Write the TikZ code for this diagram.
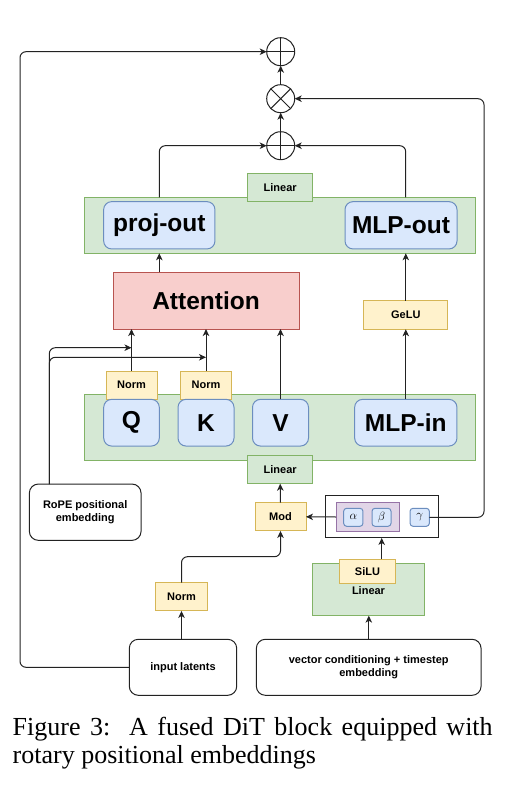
\documentclass[tikz,border=0pt]{standalone}
\usepackage{fontspec}
\setmainfont{Liberation Serif}
\newfontfamily\labfont{Liberation Sans}
\usetikzlibrary{arrows.meta}
\definecolor{gfill}{HTML}{D5E8D4}\definecolor{gline}{HTML}{82B366}
\definecolor{bfill}{HTML}{DAE8FC}\definecolor{bline}{HTML}{6C8EBF}
\definecolor{rfill}{HTML}{F8CECC}\definecolor{rline}{HTML}{B85450}
\definecolor{yfill}{HTML}{FFF2CC}\definecolor{yline}{HTML}{D6B656}
\definecolor{pfill}{HTML}{E1D5E7}\definecolor{pline}{HTML}{9673A6}
\definecolor{ink}{HTML}{222222}
\begin{document}
\begin{tikzpicture}[x=1pt,y=-1pt,
  every node/.style={inner sep=0pt, outer sep=0pt},
  band/.style={draw=gline, fill=gfill, line width=1pt},
  bluebox/.style={draw=bline, fill=bfill, line width=1pt, rounded corners=8pt,
     font=\labfont\bfseries\fontsize{24.5}{28}\selectfont},
  redbox/.style={draw=rline, fill=rfill, line width=1pt,
     font=\labfont\bfseries\fontsize{24.5}{28}\selectfont},
  tabbox/.style={draw=gline, fill=gfill, line width=1pt,
     font=\labfont\bfseries\fontsize{11}{13}\selectfont},
  ybox/.style={draw=yline, fill=yfill, line width=1pt,
     font=\labfont\bfseries\fontsize{11}{13}\selectfont},
  wbox/.style={draw=ink, fill=white, line width=1pt, rounded corners=9pt, align=center,
     font=\labfont\bfseries\fontsize{11}{12.7}\selectfont},
  greek/.style={draw=bline, fill=bfill, line width=1pt, rounded corners=3pt,
     font=\fontsize{12}{14}\selectfont},
  opcirc/.style={draw=ink, line width=1pt, circle, minimum size=28pt},
  conn/.style={draw=ink, line width=1pt, rounded corners=6pt,
     -{Stealth[length=7pt,width=6.5pt,inset=2pt]}},
  plain/.style={draw=ink, line width=1pt, rounded corners=6pt}
]
\useasboundingbox (0,0) rectangle (528,786);

% operator circles
\node[opcirc] (plusT) at (280.7,51.7) {};
\node[opcirc] (times) at (280.7,98.7) {};
\node[opcirc] (plusL) at (280.7,145.7) {};
\draw[ink, line width=1pt] (plusT.north) -- (plusT.south) (plusT.west) -- (plusT.east);
\draw[ink, line width=1pt] (plusL.north) -- (plusL.south) (plusL.west) -- (plusL.east);
\draw[ink, line width=1pt] (times.north west) -- (times.south east) (times.north east) -- (times.south west);

% top band
\node[band, minimum width=391pt, minimum height=56pt] (topband) at (280.2,225.3) {};
\node[tabbox, minimum width=65pt, minimum height=28.3pt] (lintop) at (280.2,187.8) {Linear};
\node[bluebox, minimum width=111.3pt, minimum height=47.3pt] (projout) at (159.3,225.3) {proj-out};
\node[bluebox, minimum width=112pt, minimum height=47.3pt] (mlpout) at (401,225.3) {MLP-out};

% attention and gelu
\node[redbox, minimum width=186pt, minimum height=56.7pt] (attn) at (206,300.7) {Attention};
\node[ybox, minimum width=83.7pt, minimum height=28.6pt] (gelu) at (405.8,315) {GeLU};

% lower band
\node[band, minimum width=391pt, minimum height=66pt] (lowband) at (280.2,427.3) {};
\node[ybox, minimum width=51pt, minimum height=28.3pt] (normq) at (131.5,385.2) {Norm};
\node[ybox, minimum width=51pt, minimum height=28.3pt] (normk) at (206,385.2) {Norm};
\node[bluebox, minimum width=55.6pt, minimum height=46.7pt] (Q) at (131.5,422.7) {Q};
\node[bluebox, minimum width=56pt, minimum height=46.7pt] (K) at (206,422.7) {K};
\node[bluebox, minimum width=56pt, minimum height=46.7pt] (V) at (280.5,422.7) {V};
\node[bluebox, minimum width=102.3pt, minimum height=46.7pt] (mlpin) at (405.8,422.7) {MLP-in};
\node[tabbox, minimum width=65pt, minimum height=28pt] (linlow) at (280.2,469.7) {Linear};

% modulation
\node[ybox, minimum width=51pt, minimum height=28.3pt] (mod) at (280.5,516.8) {Mod};
\node[draw=ink, fill=white, line width=1pt, minimum width=112.7pt, minimum height=42.3pt] (params) at (381.7,516.8) {};
\node[draw=pline, fill=pfill, line width=1pt, minimum width=63.3pt, minimum height=28.6pt] (purp) at (367.7,517) {};
\node[greek, minimum width=19.3pt, minimum height=18pt] (alpha) at (353.3,517.3) {$\alpha$};
\node[greek, minimum width=19pt, minimum height=18pt] (beta) at (381.5,517.3) {$\beta$};
\node[greek, minimum width=19.3pt, minimum height=18pt] (gamma) at (419.7,517.3) {$\gamma$};

% RoPE
\node[wbox, minimum width=111.7pt, minimum height=56.3pt] (rope) at (85.2,512.2) {RoPE positional\\embedding};

% conditioning
\node[band, minimum width=112.3pt, minimum height=51.7pt] (lincond) at (368.8,589.8) {};
\node[ybox, minimum width=55.6pt, minimum height=23.7pt] (silu) at (367.5,571.2) {SiLU};
\node[font=\labfont\bfseries\fontsize{11}{13}\selectfont] (lincondtxt) at (368.5,590.7) {Linear};

% inputs
\node[ybox, minimum width=51.6pt, minimum height=28.3pt] (normin) at (181.5,596.8) {Norm};
\node[wbox, minimum width=107.4pt, minimum height=56pt] (latents) at (183,667.3) {input latents};
\node[wbox, minimum width=224.7pt, minimum height=56pt] (vcond) at (368.7,667.3) {vector conditioning + timestep\\embedding};

% coordinates
\coordinate (ropeup) at (49.3,484);
\coordinate (qhit) at (131.5,347.7);
\coordinate (khit) at (206,357.3);

% connectors
\draw[conn] (plusL.north) -- (times.south);
\draw[conn] (times.north) -- (plusT.south);
\draw[conn] (projout.south |- topband.north) |- (plusL.west);
\draw[conn] (405.7,197.3) |- (plusL.east);
\draw[conn] (attn.north -| projout.south) -- (projout.south |- topband.south);
\draw[conn] (gelu.north) -- (gelu.north |- topband.south);
\draw[conn] (mlpin.north -| gelu.south) -- (gelu.south);
\draw[conn] (normq.north) -- (normq.north |- attn.south);
\draw[conn] (normk.north) -- (normk.north |- attn.south);
\draw[conn] (V.north) -- (V.north |- attn.south);
\draw[conn] (ropeup) |- (qhit);
\draw[conn] (ropeup) |- (khit);
\draw[conn] (mod.north) -- (linlow.south);
\draw[conn] (purp.west) -- (mod.east);
\draw[conn] (gamma.east) -| (484,98.7) -- (times.east);
\draw[conn] (latents.west) -| (20,51.7) -- (plusT.west);
\draw[conn] (latents.north -| normin.south) -- (normin.south);
\draw[conn] (normin.north) |- (280.5,556.7) -- (mod.south);
\draw[conn] (vcond.north -| lincond.south) -- (lincond.south);
\draw[conn] (silu.north -| params.south) -- (params.south);

% caption
\node[anchor=base west, font=\fontsize{26}{28}\selectfont] (cap1) at (12.7,735.7)
  {\makebox[480pt][s]{Figure 3:\ \ A fused DiT block equipped with}};
\node[anchor=base west, font=\fontsize{26}{28}\selectfont] (cap2) at (12.7,763.3)
  {rotary positional embeddings};
\end{tikzpicture}
\end{document}
